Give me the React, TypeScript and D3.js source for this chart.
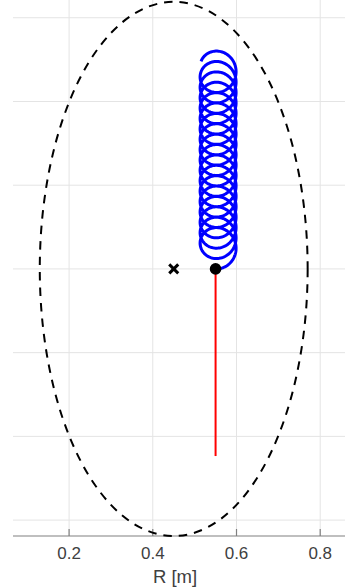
import React from "react";
import * as d3 from "d3";

// ---- data ----
const rDomain = [0.066, 0.864];
const zDomain = [-0.638, 0.64];
const xTickValues = [0.2, 0.4, 0.6, 0.8];
const xTickLabels = ["0.2", "0.4", "0.6", "0.8"];
const zGridValues = [-0.6, -0.4, -0.2, 0, 0.2, 0.4, 0.6];
const xLabel = "R [m]";

// plasma boundary (dashed ellipse): centre R, Z and semi-axes
const boundaryCenter = [0.45, 0];
const boundarySemiAxes = [0.32, 0.638];
// magnetic axis marker
const magneticAxis = [0.45, 0];
// particle start
const particleStart = [0.55, 0];
// red segment end
const redLineEnd = [0.55, -0.447];
// gyro orbit parameters: guiding-centre R, Larmor radius, pitch per turn, number of turns
const guidingCenterR = [0.556];
const larmorRadius = [0.043];
const pitchPerTurn = [0.0248];
const nTurns = [17.72];

const W = 345;
const H = 587;

export default function App() {
  const x = d3.scaleLinear().domain(rDomain).range([13, 347]);
  const y = d3.scaleLinear().domain(zDomain).range([536, 1]);

  // gyro orbit path
  const rc = guidingCenterR[0];
  const rho = larmorRadius[0];
  const th0 = Math.asin((particleStart[0] - rc) / rho);
  const z0 = particleStart[1] + rho * Math.cos(th0);
  const nPts = Math.round(nTurns[0] * 90);
  const pts: [number, number][] = d3.range(nPts + 1).map((i) => {
    const th = th0 + (2 * Math.PI * nTurns[0] * i) / nPts;
    const R = rc + rho * Math.sin(th);
    const Z = z0 + (pitchPerTurn[0] * (th - th0)) / (2 * Math.PI) - rho * Math.cos(th);
    return [R, Z];
  });
  const line = d3
    .line<[number, number]>()
    .x((d) => x(d[0]))
    .y((d) => y(d[1]));

  const axisY = y(zDomain[0]);
  const font = "'Liberation Sans', Arial, Helvetica, sans-serif";
  const mx = x(magneticAxis[0]);
  const my = y(magneticAxis[1]);
  const xs = 4.5;

  return (
    <svg
      width={W}
      height={H}
      style={{ position: "absolute", left: 0, top: 0, background: "#fff" }}
    >
      {/* grid */}
      <g stroke="#e4e4e4" strokeWidth={1}>
        {xTickValues.map((v) => (
          <line key={"gx" + v} x1={x(v)} x2={x(v)} y1={0} y2={axisY} />
        ))}
        {zGridValues.map((v) => (
          <line key={"gz" + v} x1={x(rDomain[0])} x2={W} y1={y(v)} y2={y(v)} />
        ))}
      </g>

      {/* x axis */}
      <line x1={x(rDomain[0])} x2={W} y1={axisY} y2={axisY} stroke="#808080" strokeWidth={1.2} />
      {xTickValues.map((v) => (
        <line key={"t" + v} x1={x(v)} x2={x(v)} y1={axisY} y2={axisY - 7} stroke="#808080" strokeWidth={1.2} />
      ))}
      {xTickValues.map((v, i) => (
        <text
          key={"tl" + v}
          x={x(v)}
          y={559}
          textAnchor="middle"
          fontFamily={font}
          fontSize={17}
          fill="#404040"
        >
          {xTickLabels[i]}
        </text>
      ))}
      <text x={175} y={583} textAnchor="middle" fontFamily={font} fontSize={18.5} fill="#404040">
        {xLabel}
      </text>

      {/* plasma boundary */}
      <ellipse
        cx={x(boundaryCenter[0])}
        cy={y(boundaryCenter[1])}
        rx={x(boundaryCenter[0] + boundarySemiAxes[0]) - x(boundaryCenter[0])}
        ry={y(boundaryCenter[1]) - y(boundaryCenter[1] + boundarySemiAxes[1])}
        fill="none"
        stroke="#000"
        strokeWidth={2}
        strokeDasharray="8.5 7"
      />

      {/* red line */}
      <line
        x1={x(particleStart[0])}
        x2={x(redLineEnd[0])}
        y1={y(particleStart[1])}
        y2={y(redLineEnd[1])}
        stroke="#ff0000"
        strokeWidth={2}
      />

      {/* gyro orbit */}
      <path d={line(pts) || ""} fill="none" stroke="#0000ff" strokeWidth={3} strokeLinejoin="round" />

      {/* particle start */}
      <circle cx={x(particleStart[0])} cy={y(particleStart[1])} r={5.8} fill="#000" />

      {/* magnetic axis */}
      <g stroke="#000" strokeWidth={3}>
        <line x1={mx - xs} x2={mx + xs} y1={my - xs} y2={my + xs} />
        <line x1={mx - xs} x2={mx + xs} y1={my + xs} y2={my - xs} />
      </g>
    </svg>
  );
}
